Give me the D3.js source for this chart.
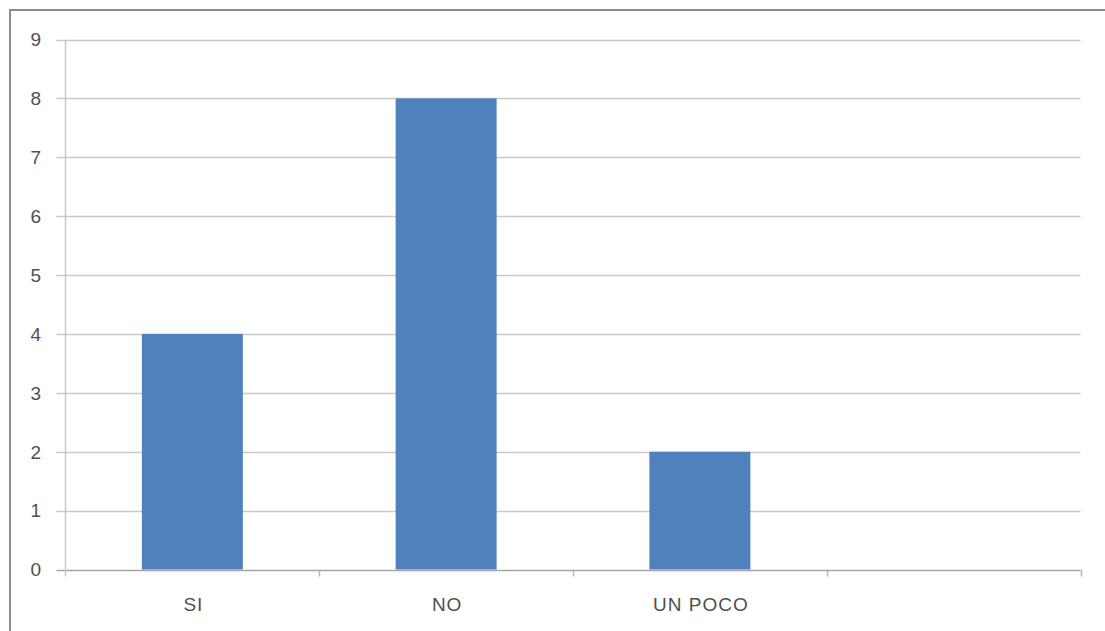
<!DOCTYPE html>
<html><head><meta charset="utf-8">
<script src="https://cdn.jsdelivr.net/npm/d3@7"></script>
<style>body{margin:0;background:#fff;}svg{display:block;}</style>
</head><body>
<script>
const categories = ["SI", "NO", "UN POCO", ""];
const values = [4, 8, 2, null];
const yTicks = [0,1,2,3,4,5,6,7,8,9];

const W = 1105, H = 631;
const svg = d3.select("body").append("svg").attr("width", W).attr("height", H);
svg.append("rect").attr("x",0).attr("y",0).attr("width",W).attr("height",H).attr("fill","#fff");
// chart border (only left and top visible)
svg.append("path").attr("d", `M10,${H+5} L10,10 L${W+5},10`).attr("fill","none").attr("stroke","#8c8c8c").attr("stroke-width",2);

const x0 = 65.5, x1 = 1080.5, yTop = 39.5, yBot = 569.5;
const xb = d3.scaleBand().domain(categories.map((c,i)=>i)).range([x0, x1]);
const y = d3.scaleLinear().domain([0, 9]).range([yBot, yTop]);

// gridlines
svg.append("g").selectAll("line").data(yTicks).join("line")
  .attr("x1", x0 - 9).attr("x2", x1)
  .attr("y1", d => Math.round(y(d)) + 0.5).attr("y2", d => Math.round(y(d)) + 0.5)
  .attr("stroke", d => d === 0 ? "#a6a6a6" : "#c8c8c8").attr("stroke-width", 1.5);
// y axis line
svg.append("line").attr("x1", x0).attr("x2", x0).attr("y1", yTop).attr("y2", yBot + 7)
  .attr("stroke", "#c8c8c8").attr("stroke-width", 1.5);
// x ticks
const xtickPos = categories.map((c,i)=>xb(i)).concat([x1]);
svg.append("g").selectAll("line").data(xtickPos.slice(1)).join("line")
  .attr("x1", d=>Math.round(d)+0.5).attr("x2", d=>Math.round(d)+0.5).attr("y1", yBot).attr("y2", yBot + 7)
  .attr("stroke", "#b4b4b4").attr("stroke-width", 1.5);

// y labels
svg.append("g").selectAll("text").data(yTicks).join("text")
  .attr("x", 41).attr("y", d => y(d)).attr("dy", "0.36em").attr("text-anchor", "end")
  .attr("font-family", "Liberation Sans, Arial, sans-serif").attr("font-size", 19).attr("fill", "#505050")
  .text(d => d);

// bars
const bw = 101;
svg.append("g").selectAll("rect").data(values.map((v,i)=>({v,i})).filter(d=>d.v!=null)).join("rect")
  .attr("x", d => xb(d.i) + xb.bandwidth()/2 - bw/2)
  .attr("width", bw)
  .attr("y", d => y(d.v))
  .attr("height", d => y(0) - y(d.v))
  .attr("fill", "#4f81bd");

// x labels
svg.append("g").selectAll("text").data(categories.map((c,i)=>({c,i}))).join("text")
  .attr("x", d => xb(d.i) + xb.bandwidth()/2 + 1).attr("y", 611)
  .attr("text-anchor", "middle")
  .attr("font-family", "Liberation Sans, Arial, sans-serif").attr("font-size", 19)
  .attr("letter-spacing", 1).attr("fill", "#505050")
  .text(d => d.c);
</script>
</body></html>
